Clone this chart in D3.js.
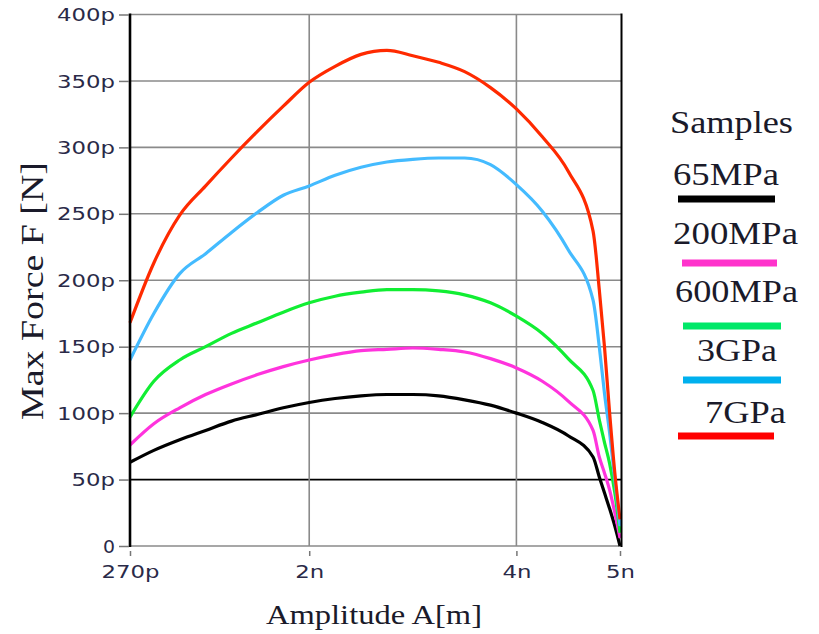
<!DOCTYPE html>
<html><head><meta charset="utf-8">
<script src="https://cdn.jsdelivr.net/npm/d3@7"></script>
<style>body{margin:0;background:#fff} svg{display:block}</style>
</head><body><svg id="c" width="819" height="634"></svg>
<script>
// Amplitude in nm, force in pN
const amplitudes = [0.27,0.5,0.75,1.0,1.25,1.5,1.75,2.0,2.25,2.5,2.75,3.0,3.25,3.5,3.75,4.0,4.25,4.5,4.74,4.8,4.85,4.9,4.95,5.0];
const seriesNames = ["65MPa","200MPa","600MPa","3GPa","7GPa"];
const force65MPa  = [63,72,80,87,94,99,104,108,111,113,114,114,113,110,106,100,93,83,67,52,40,28,15,0];
const force200MPa = [76,92,104,114,122,129,135,140,144,147,148,149,148,146,141,134,124,109,87,67,55,42,25,6];
const force600MPa = [97,124,140,150,160,168,176,183,188,191,193,193,192,189,183,173,160,141,117,95,78,62,40,10];
const force3GPa   = [140,175,205,220,236,251,264,271,279,285,289,291,292,292,287,272,252,223,185,150,115,85,50,15];
const force7GPa   = [168,213,249,271,292,312,331,349,361,370,373,369,364,357,345,329,308,282,237,193,150,100,55,20];
const curveColors  = ["#000000","#ff33dd","#11ee33","#44bbff","#ff2a00"];
const legendColors = ["#000000","#ff33cc","#00e868","#00b0ee","#ff0000"];
const xTickValues = [0.27,2,4,5];
const xTickLabels = ["270p","2n","4n","5n"];
const yTickValues = [0,50,100,150,200,250,300,350,400];
const yTickLabels = ["0","50p","100p","150p","200p","250p","300p","350p","400p"];
const xTitle = "Amplitude A[m]";
const yTitle = "Max Force F [N]";
const legendTitle = "Samples";

const allSeries = [force65MPa, force200MPa, force600MPa, force3GPa, force7GPa];
const svg = d3.select("#c");
const L = 130, R = 620, T = 14.5, B = 546;
const x = d3.scaleLinear().domain([0.27, 5]).range([L, R]);
const y = d3.scaleLinear().domain([0, 400]).range([B, T]);
const labelWidth = s => s.length === 1 ? 12 : s.length * 14.5;

// horizontal grid
svg.append("g").selectAll("line").data(yTickValues).join("line")
  .attr("x1", L).attr("x2", R + 1)
  .attr("y1", d => y(d)).attr("y2", d => y(d))
  .attr("stroke", d => d === 50 ? "#000" : "#8a8a8a")
  .attr("stroke-width", d => d === 50 ? 1.8 : 1.6);
// vertical grid
svg.append("g").selectAll("line").data([2, 4]).join("line")
  .attr("x1", d => x(d)).attr("x2", d => x(d))
  .attr("y1", T).attr("y2", B)
  .attr("stroke", "#8a8a8a").attr("stroke-width", 1.6);

// curves
const line = d3.line().x((d, i) => x(amplitudes[i])).y(d => y(d)).curve(d3.curveMonotoneX);
svg.append("g").selectAll("path").data(allSeries).join("path")
  .attr("d", d => line(d))
  .attr("fill", "none")
  .attr("stroke", (d, i) => curveColors[i])
  .attr("stroke-width", 3.2)
  .attr("stroke-linejoin", "round");

// borders
svg.append("line").attr("x1", L).attr("x2", L).attr("y1", T - 1).attr("y2", B + 1)
  .attr("stroke", "#000").attr("stroke-width", 2.6);
svg.append("line").attr("x1", R + 1.5).attr("x2", R + 1.5).attr("y1", T - 1).attr("y2", B + 1)
  .attr("stroke", "#000").attr("stroke-width", 2);

// axes
const yAxis = d3.axisLeft(y).tickValues(yTickValues)
  .tickFormat((d, i) => yTickLabels[i]).tickSize(10).tickPadding(5);
const gy = svg.append("g").attr("transform", `translate(${L - 1},0)`).call(yAxis)
  .attr("font-family", "DejaVu Sans").attr("font-size", 17);
gy.select(".domain").remove();
gy.selectAll(".tick line").attr("stroke", "#777").attr("stroke-width", 1.5);
gy.selectAll(".tick text").attr("fill", "#2a2a48").attr("dy", "0.36em")
  .attr("text-anchor", "start")
  .attr("x", function () { return -14 - labelWidth(d3.select(this).text()); })
  .attr("textLength", function () { return labelWidth(d3.select(this).text()); })
  .attr("lengthAdjust", "spacingAndGlyphs");

const xAxis = d3.axisBottom(x).tickValues(xTickValues)
  .tickFormat((d, i) => xTickLabels[i]).tickSize(0).tickPadding(20);
const gx = svg.append("g").attr("transform", `translate(0,${B})`).call(xAxis)
  .attr("font-family", "DejaVu Sans").attr("font-size", 17);
gx.select(".domain").remove();
gx.selectAll(".tick").append("line")
  .attr("y1", 5).attr("y2", 10).attr("stroke", "#777").attr("stroke-width", 1.5);
gx.selectAll(".tick text").attr("fill", "#2a2a48").attr("y", 32).attr("dy", 0)
  .attr("text-anchor", "start")
  .attr("x", function () { return -labelWidth(d3.select(this).text()) / 2; })
  .attr("textLength", function () { return labelWidth(d3.select(this).text()); })
  .attr("lengthAdjust", "spacingAndGlyphs");

// axis titles
svg.append("text").attr("x", 374).attr("y", 624)
  .attr("text-anchor", "middle").attr("font-family", "Liberation Serif")
  .attr("font-size", 28).attr("fill", "#1a1a2a")
  .attr("textLength", 216).attr("lengthAdjust", "spacingAndGlyphs")
  .text(xTitle);
svg.append("text").attr("transform", "translate(43,291) rotate(-90)")
  .attr("text-anchor", "middle").attr("font-family", "Liberation Serif")
  .attr("font-size", 31).attr("fill", "#1a1a2a")
  .attr("textLength", 258).attr("lengthAdjust", "spacingAndGlyphs")
  .text(yTitle);

// legend
const lg = svg.append("g").attr("font-family", "Liberation Serif").attr("fill", "#1a1a2a");
lg.append("text").attr("x", 670).attr("y", 133).attr("font-size", 32)
  .attr("textLength", 123).attr("lengthAdjust", "spacingAndGlyphs").text(legendTitle);
const legText = [
  {x: 673, y: 185, w: 106}, {x: 673, y: 244, w: 125}, {x: 675, y: 302, w: 123},
  {x: 697, y: 361, w: 80}, {x: 705, y: 423, w: 81}
];
const legLine = [
  {x1: 678, x2: 775, y: 199}, {x1: 682, x2: 777, y: 263}, {x1: 683, x2: 781, y: 326},
  {x1: 683, x2: 781, y: 380}, {x1: 678, x2: 774, y: 436}
];
seriesNames.forEach((n, i) => {
  lg.append("text").attr("x", legText[i].x).attr("y", legText[i].y).attr("font-size", 32)
    .attr("textLength", legText[i].w).attr("lengthAdjust", "spacingAndGlyphs").text(n);
  lg.append("line").attr("x1", legLine[i].x1).attr("x2", legLine[i].x2)
    .attr("y1", legLine[i].y).attr("y2", legLine[i].y)
    .attr("stroke", legendColors[i]).attr("stroke-width", 7);
});
</script></body></html>
